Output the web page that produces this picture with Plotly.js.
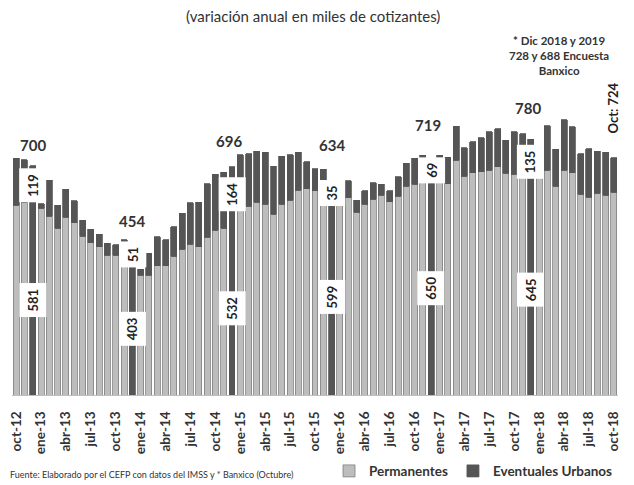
<!DOCTYPE html>
<html>
<head>
<meta charset="utf-8">
<script src="https://cdn.plot.ly/plotly-3.0.1.min.js"></script>
<style>html,body{margin:0;padding:0;background:#fff;}#chart{width:634px;height:485px;}</style>
</head>
<body>
<div id="chart"></div>
<script>
// ---- Data ----
const meses = ['oct-12','nov-12','dic-12','ene-13','feb-13','mar-13','abr-13','may-13','jun-13','jul-13','ago-13','sep-13',
  'oct-13','nov-13','dic-13','ene-14','feb-14','mar-14','abr-14','may-14','jun-14','jul-14','ago-14','sep-14',
  'oct-14','nov-14','dic-14','ene-15','feb-15','mar-15','abr-15','may-15','jun-15','jul-15','ago-15','sep-15',
  'oct-15','nov-15','dic-15','ene-16','feb-16','mar-16','abr-16','may-16','jun-16','jul-16','ago-16','sep-16',
  'oct-16','nov-16','dic-16','ene-17','feb-17','mar-17','abr-17','may-17','jun-17','jul-17','ago-17','sep-17',
  'oct-17','nov-17','dic-17','ene-18','feb-18','mar-18','abr-18','may-18','jun-18','jul-18','ago-18','sep-18','oct-18'];

const permanentes = [579,587,581,569,546,508,543,525,485,465,452,427,
  427,413,403,366,366,394,394,424,444,460,452,481,
  503,509,532,572,576,588,582,551,582,594,625,630,
  623,618,599,597,602,558,582,597,609,590,606,637,
  643,648,650,653,645,716,668,678,681,686,696,676,
  673,664,645,664,686,637,686,678,612,604,615,610,618];

const eventuales = [144,131,119,15,109,71,84,67,48,40,38,36,
  32,60,51,17,66,89,79,89,111,126,136,164,
  170,170,164,161,160,156,158,147,146,139,115,81,
  68,70,35,26,51,36,41,50,34,33,60,70,
  79,84,69,78,81,104,87,94,104,117,117,101,
  130,133,135,12,135,112,154,140,124,147,129,131,106];

const tickLabels = ['oct-12','ene-13','abr-13','jul-13','oct-13','ene-14','abr-14','jul-14','oct-14',
  'ene-15','abr-15','jul-15','oct-15','ene-16','abr-16','jul-16','oct-16','ene-17','abr-17','jul-17',
  'oct-17','ene-18','abr-18','jul-18','oct-18'];

const ultimoTexto = 'Oct: 724';
const nota = '* Dic 2018 y 2019<br>728 y 688 Encuesta<br>Banxico';
const fuente = 'Fuente: Elaborado por el CEFP con datos del IMSS y * Banxico (Octubre)';

// ---- Styles ----
const LIGHT = '#bdbdbd', DARK = '#555555', TXT = '#333333';
const FONT = 'Lato, "Open Sans", sans-serif';
const totalShift = [21, 25, 26, 42, 34, 31];
const totalXShift = [0, 0, -3, 0, -3, -3];

const isDic = meses.map(m => m.startsWith('dic'));
const permColors = isDic.map(d => d ? DARK : LIGHT);
const permLine = isDic.map(d => d ? DARK : '#7f7f7f');

const traces = [
  {type:'bar', name:'Permanentes', x:meses, y:permanentes,
   marker:{color:permColors, line:{color:permLine, width:0.8}}, hoverinfo:'x+y'},
  {type:'bar', name:'Eventuales Urbanos', x:meses, y:eventuales,
   marker:{color:DARK, line:{color:DARK, width:0.8}}, hoverinfo:'x+y'}
];

const annotations = [];
let k = 0;
meses.forEach((m, i) => {
  if (!isDic[i]) return;
  const p = permanentes[i], e = eventuales[i];
  const boxFont = {family:FONT, size:13, color:'#222', weight:'bold'};
  annotations.push({x:m, y:p/2, text:String(p), textangle:-90, showarrow:false,
    bgcolor:'#ffffff', borderpad:5, font:boxFont});
  annotations.push({x:m, y:p + e/2, text:String(e), textangle:-90, showarrow:false,
    bgcolor:'#ffffff', borderpad:5, font:boxFont});
  annotations.push({x:m, y:p + e, text:String(p + e), showarrow:false, yanchor:'middle',
    yshift:totalShift[k], xshift:totalXShift[k],
    font:{family:FONT, size:15, color:TXT, weight:'bold'}});
  k++;
});
const last = meses.length - 1;
annotations.push({x:meses[last], y:permanentes[last] + eventuales[last], text:ultimoTexto,
  textangle:-90, showarrow:false, yanchor:'middle', yshift:50, xshift:-1,
  font:{family:FONT, size:13, color:'#222', weight:'bold'}});
annotations.push({xref:'paper', yref:'paper', x:0.903, xanchor:'center', y:1.1525, yanchor:'middle',
  text:nota, showarrow:false, align:'center', font:{family:FONT, size:11.5, color:TXT, weight:'bold'}});
annotations.push({xref:'paper', yref:'paper', x:-0.007, xanchor:'left', y:-0.271, yanchor:'middle',
  text:fuente, showarrow:false, font:{family:FONT, size:9, color:TXT}});

const layout = {
  width:634, height:485,
  margin:{l:12, r:16, t:100, b:90, autoexpand:false},
  paper_bgcolor:'#ffffff', plot_bgcolor:'#ffffff',
  barmode:'stack', bargap:0.28,
  title:{text:'(variación anual en miles de cotizantes)', x:0.494, xanchor:'center',
    y:0.965, yanchor:'middle', font:{family:FONT, size:15, color:TXT}},
  xaxis:{type:'category', range:[-0.5, meses.length - 0.5], tickvals:tickLabels, ticktext:tickLabels,
    tickangle:-90, tickfont:{family:FONT, size:13.5, color:TXT, weight:'bold'}, ticklabelstandoff:10,
    showline:true, linecolor:'#bfbfbf', linewidth:1, showgrid:false, ticks:'', zeroline:false,
    fixedrange:true, automargin:false},
  yaxis:{range:[0, 900], visible:false, fixedrange:true},
  showlegend:true,
  legend:{orientation:'h', x:1.0, xanchor:'right', y:-0.258, yanchor:'middle',
    font:{family:FONT, size:13.5, color:TXT, weight:'bold'}, itemwidth:30, traceorder:'normal'},
  annotations:annotations
};

Plotly.newPlot('chart', traces, layout, {displayModeBar:false, staticPlot:true});
</script>
</body>
</html>
